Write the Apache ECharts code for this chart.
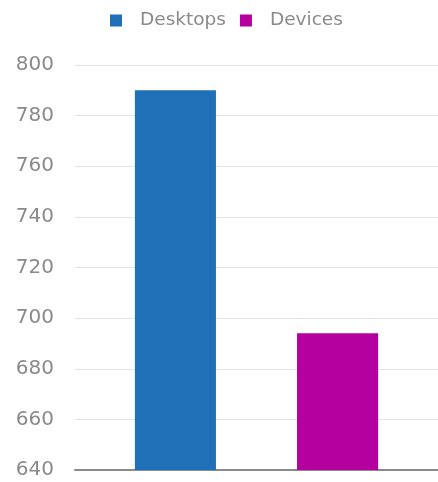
<!DOCTYPE html>
<html><head><meta charset="utf-8">
<script src="https://cdn.jsdelivr.net/npm/echarts@6/dist/echarts.min.js"></script>
<style>html,body{margin:0;padding:0;background:#fff}#c{width:438px;height:482px}</style>
</head><body><div id="c"></div>
<script>
var categories = ['Total'];
var seriesNames = ['Desktops', 'Devices'];
var desktops = [790];
var devices = [694];
var yMin = 640, yMax = 800, yStep = 20;

var font = "'DejaVu Sans ExtraLight', 'DejaVu Sans', sans-serif";
var chart = echarts.init(document.getElementById('c'));
chart.setOption({
  animation: false,
  legend: {
    top: 6, left: 105,
    itemWidth: 12, itemHeight: 12, itemGap: 14,
    icon: 'rect',
    textStyle: {color: '#8a8a8a', fontSize: 18.5, fontFamily: font, padding: [0, 0, 0, 13]},
    data: seriesNames
  },
  grid: {left: 75, right: 0, top: 65, bottom: 12},
  xAxis: {
    type: 'category', data: categories,
    axisLine: {lineStyle: {color: '#8a8a8a', width: 2}},
    axisTick: {show: false}, axisLabel: {show: false}
  },
  yAxis: {
    type: 'value', min: yMin, max: yMax, interval: yStep,
    axisLine: {show: false}, axisTick: {show: false},
    axisLabel: {color: '#8a8a8a', fontSize: 20, margin: 21, fontFamily: font},
    splitLine: {lineStyle: {color: '#e3e3e3'}}
  },
  series: [
    {name: seriesNames[0], type: 'bar', data: desktops, itemStyle: {color: '#2070b8'}, barGap: '100%', barCategoryGap: '33%'},
    {name: seriesNames[1], type: 'bar', data: devices, itemStyle: {color: '#b3009e'}}
  ]
});
</script></body></html>
